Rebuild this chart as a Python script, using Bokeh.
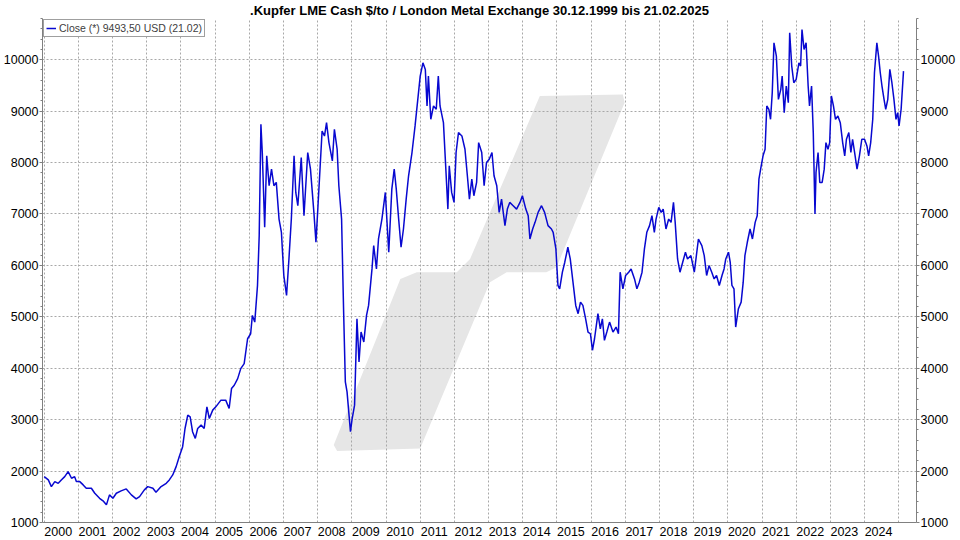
from bokeh.plotting import figure
from bokeh.models import (Range1d, LinearAxis, FixedTicker, CustomJSTickFormatter,
                          Legend, LegendItem, ColumnDataSource)
from bokeh.embed import file_html
from bokeh.resources import INLINE

# ---------------- data ----------------
years = [
    2000.00, 2000.12, 2000.21, 2000.31, 2000.41, 2000.50, 2000.60, 2000.70, 2000.80, 2000.89,
    2000.94, 2001.04, 2001.14, 2001.23, 2001.38, 2001.48, 2001.62, 2001.72, 2001.82, 2001.91,
    2002.01, 2002.11, 2002.25, 2002.40, 2002.55, 2002.69, 2002.79, 2002.93, 2003.03, 2003.18,
    2003.27, 2003.42, 2003.57, 2003.66, 2003.76, 2003.86, 2003.95, 2004.05, 2004.12, 2004.20,
    2004.27, 2004.34, 2004.42, 2004.49, 2004.59, 2004.68, 2004.76, 2004.83, 2004.93, 2005.02,
    2005.17, 2005.31, 2005.41, 2005.48, 2005.56, 2005.66, 2005.75, 2005.85, 2005.95, 2006.04,
    2006.09, 2006.16, 2006.24, 2006.29, 2006.34, 2006.38, 2006.45, 2006.51, 2006.58, 2006.65,
    2006.72, 2006.79, 2006.87, 2006.94, 2007.01, 2007.09, 2007.16, 2007.23, 2007.31, 2007.36,
    2007.42, 2007.52, 2007.60, 2007.71, 2007.79, 2007.89, 2007.95, 2008.01, 2008.13, 2008.20,
    2008.26, 2008.33, 2008.43, 2008.49, 2008.57, 2008.62, 2008.70, 2008.76, 2008.81, 2008.86,
    2008.91, 2008.96, 2009.01, 2009.08, 2009.15, 2009.21, 2009.27, 2009.35, 2009.43, 2009.49,
    2009.59, 2009.64, 2009.72, 2009.78, 2009.88, 2009.98, 2010.08, 2010.17, 2010.24, 2010.30,
    2010.37, 2010.44, 2010.51, 2010.59, 2010.66, 2010.76, 2010.85, 2010.92, 2011.00, 2011.08,
    2011.15, 2011.20, 2011.24, 2011.31, 2011.39, 2011.47, 2011.53, 2011.58, 2011.68, 2011.76,
    2011.81, 2011.85, 2011.92, 2011.99, 2012.05, 2012.12, 2012.22, 2012.31, 2012.38, 2012.44,
    2012.51, 2012.57, 2012.65, 2012.71, 2012.80, 2012.87, 2012.94, 2013.02, 2013.10, 2013.16,
    2013.24, 2013.31, 2013.38, 2013.48, 2013.55, 2013.62, 2013.72, 2013.82, 2013.92, 2013.99,
    2014.09, 2014.16, 2014.21, 2014.29, 2014.36, 2014.45, 2014.55, 2014.64, 2014.74, 2014.84,
    2014.89, 2014.97, 2015.03, 2015.08, 2015.16, 2015.23, 2015.32, 2015.39, 2015.47, 2015.55,
    2015.62, 2015.69, 2015.76, 2015.84, 2015.91, 2015.98, 2016.04, 2016.10, 2016.20, 2016.27,
    2016.33, 2016.39, 2016.46, 2016.54, 2016.64, 2016.73, 2016.80, 2016.85, 2016.93, 2017.01,
    2017.10, 2017.17, 2017.27, 2017.34, 2017.41, 2017.49, 2017.56, 2017.63, 2017.71, 2017.78,
    2017.85, 2017.90, 2017.98, 2018.05, 2018.11, 2018.19, 2018.27, 2018.34, 2018.41, 2018.46,
    2018.53, 2018.60, 2018.68, 2018.76, 2018.82, 2018.92, 2019.02, 2019.08, 2019.14, 2019.24,
    2019.31, 2019.38, 2019.45, 2019.53, 2019.60, 2019.67, 2019.75, 2019.83, 2019.89, 2019.94,
    2020.02, 2020.07, 2020.12, 2020.18, 2020.23, 2020.31, 2020.39, 2020.45, 2020.50, 2020.57,
    2020.65, 2020.72, 2020.80, 2020.86, 2020.91, 2020.96, 2021.03, 2021.09, 2021.14, 2021.20,
    2021.25, 2021.30, 2021.35, 2021.42, 2021.48, 2021.55, 2021.59, 2021.65, 2021.71, 2021.77,
    2021.81, 2021.87, 2021.93, 2022.00, 2022.08, 2022.13, 2022.17, 2022.23, 2022.29, 2022.35,
    2022.39, 2022.45, 2022.50, 2022.55, 2022.58, 2022.64, 2022.69, 2022.76, 2022.82, 2022.87,
    2022.93, 2022.98, 2023.03, 2023.09, 2023.15, 2023.22, 2023.29, 2023.36, 2023.42, 2023.47,
    2023.54, 2023.60, 2023.65, 2023.71, 2023.78, 2023.85, 2023.92, 2024.00, 2024.07, 2024.12,
    2024.18, 2024.24, 2024.29, 2024.36, 2024.41, 2024.46, 2024.51, 2024.57, 2024.62, 2024.68,
    2024.74, 2024.80, 2024.86, 2024.92, 2024.97, 2025.01, 2025.07, 2025.14,
]
close = [
    1892, 1828, 1698, 1795, 1762, 1828, 1892, 1989, 1860, 1892,
    1795, 1795, 1731, 1666, 1666, 1568, 1471, 1421, 1343, 1537,
    1471, 1568, 1614, 1653, 1537, 1459, 1504, 1634, 1698, 1666,
    1588, 1698, 1762, 1828, 1925, 2086, 2280, 2474, 2828, 3088,
    3055, 2765, 2635, 2828, 2894, 2828, 3249, 3022, 3185, 3249,
    3379, 3379, 3217, 3604, 3669, 3798, 3992, 4089, 4573, 4670,
    5027, 4897, 5609, 6578, 8743, 8194, 6740, 8130, 7548, 7871,
    7548, 7613, 6900, 6642, 5803, 5415, 6125, 6900, 8130, 7418,
    7160, 8097, 6965, 8194, 7871, 7030, 6449, 7160, 8611, 8515,
    8775, 8387, 8032, 8646, 8258, 7548, 6900, 5091, 3734, 3540,
    3152, 2765, 3022, 3282, 4961, 4122, 4703, 4510, 5027, 5221,
    5931, 6384, 5931, 6513, 6900, 7418, 6255, 7482, 7871, 7482,
    6900, 6352, 6707, 7288, 7742, 8194, 8711, 9163, 9681, 9939,
    9810, 9100, 9681, 8840, 9100, 9035, 9681, 9100, 8775, 7742,
    7094, 7936, 7418, 7224, 8194, 8582, 8517, 8258, 7742, 7288,
    7676, 7353, 7612, 8387, 8194, 7548, 8000, 8064, 8194, 7742,
    7548, 7030, 7288, 6772, 7094, 7224, 7160, 7094, 7224, 7353,
    7094, 6965, 6513, 6707, 6836, 7030, 7160, 7030, 6772, 6707,
    6643, 6319, 5609, 5544, 5867, 6061, 6352, 6125, 5673, 5221,
    5060, 5285, 5221, 4961, 4703, 4670, 4349, 4573, 5060, 4767,
    4961, 4541, 4703, 4897, 4703, 4800, 4670, 5867, 5544, 5803,
    5867, 5931, 5737, 5544, 5673, 5867, 6319, 6643, 6772, 6965,
    6643, 6900, 7127, 7030, 7094, 6707, 6900, 6836, 7224, 6836,
    6125, 5867, 6061, 6255, 6125, 6190, 5867, 6190, 6513, 6384,
    6190, 5803, 5996, 5867, 5737, 5803, 5609, 5803, 5931, 6125,
    6255, 6061, 5609, 5544, 4800, 5157, 5285, 5673, 6190, 6449,
    6707, 6513, 6836, 6965, 7676, 7871, 8130, 8258, 9100, 9035,
    8840, 9358, 10327, 10069, 9228, 9422, 9681, 8969, 9487, 9163,
    10521, 9875, 9551, 9616, 9939, 9875, 10585, 10197, 10327, 9487,
    9100, 9487, 8581, 6997, 7806, 8194, 7612, 7612, 7871, 8387,
    8258, 8387, 9293, 9100, 8840, 8905, 8775, 8387, 8130, 8452,
    8581, 8194, 8452, 8194, 7871, 8130, 8452, 8452, 8323, 8130,
    8387, 8840, 9745, 10327, 10069, 9745, 9487, 9228, 9035, 9228,
    9810, 9551, 9228, 8840, 8969, 8711, 9035, 9777,
]

title_text = ".Kupfer LME Cash $/to / London Metal Exchange 30.12.1999 bis 21.02.2025"
legend_text = "Close (*) 9493,50 USD (21.02)"
year_ticks = list(range(2000, 2026))
labelled_years = list(range(2000, 2025))
price_ticks = list(range(1000, 11000, 1000))
minor_price_ticks = [v for v in range(1000, 10801, 200) if v % 1000]
x_start, x_end = 1999.95, 2025.52
y_start, y_end = 1000, 10800

# decorative background watermark outline (in data units)
wm_x = [2008.47, 2010.42, 2010.90, 2012.07, 2012.46, 2014.50, 2016.93, 2016.98,
        2014.99, 2014.69, 2013.53, 2013.04, 2011.00, 2008.57]
wm_y = [2507, 5737, 5867, 5867, 6125, 9293, 9324, 9163,
        5964, 5867, 5867, 5673, 2441, 2390]

FONT = "Liberation Sans"
GRID = "#a8a8a8"
AXIS = "#808080"
TICK_FS = "12.5px"

p = figure(width=958, height=538, output_backend="svg", toolbar_location=None,
           x_range=Range1d(x_start, x_end), y_range=Range1d(y_start, y_end),
           title=title_text, min_border_left=0, min_border_right=0,
           min_border_top=0, min_border_bottom=0)
p.outline_line_color = None
p.background_fill_color = "white"
p.border_fill_color = "white"

p.title.align = "center"
p.title.text_font = FONT
p.title.text_font_style = "bold"
p.title.text_font_size = "13px"
p.title.text_color = "black"
p.title.standoff = 1

# watermark under the grid
p.patch(wm_x, wm_y, fill_color="#e6e6e6", line_color=None, level="image")

src = ColumnDataSource(dict(x=years, y=close))
r = p.line("x", "y", source=src, line_color="#0808d0", line_width=1.5)

# grids at year starts and every 1000
p.xgrid.ticker = FixedTicker(ticks=year_ticks)
p.ygrid.ticker = FixedTicker(ticks=price_ticks)
for g in (p.xgrid[0], p.ygrid[0]):
    g.grid_line_color = GRID
    g.grid_line_dash = "2 2"
    g.grid_line_width = 1

# x axis: labels start at each year boundary
xa = p.xaxis[0]
xa.ticker = FixedTicker(ticks=[y + 0.41 for y in labelled_years])
xa.formatter = CustomJSTickFormatter(code="return Math.floor(tick).toString();")
xa.major_tick_out = 0
xa.major_tick_in = 0
xa.minor_tick_out = 0
xa.axis_line_color = AXIS
xa.major_label_text_font = FONT
xa.major_label_text_font_size = TICK_FS
xa.major_label_text_color = "black"
xa.major_label_standoff = 4

# y axes on both sides
ya = p.yaxis[0]
yr = LinearAxis()
p.add_layout(yr, "right")
for a in (ya, yr):
    a.ticker = FixedTicker(ticks=price_ticks, minor_ticks=minor_price_ticks)
    a.axis_line_color = AXIS
    a.major_tick_line_color = AXIS
    a.minor_tick_line_color = AXIS
    a.major_tick_out = 3
    a.major_tick_in = 0
    a.minor_tick_out = 2
    a.minor_tick_in = 0
    a.major_label_text_font = FONT
    a.major_label_text_font_size = TICK_FS
    a.major_label_text_color = "black"
    a.major_label_standoff = 1

legend = Legend(items=[LegendItem(label=legend_text, renderers=[r])],
                location="top_left")
legend.margin = 1
legend.padding = 2
legend.spacing = 0
legend.border_line_color = "#404040"
legend.border_line_width = 1
legend.background_fill_color = "white"
legend.background_fill_alpha = 1
legend.label_text_font = FONT
legend.label_text_font_size = "10.5px"
legend.label_text_color = "#404040"
legend.label_height = 10
legend.glyph_height = 10
legend.glyph_width = 10
legend.label_standoff = 3
p.add_layout(legend)

open("out.html", "w").write(file_html(p, INLINE))
